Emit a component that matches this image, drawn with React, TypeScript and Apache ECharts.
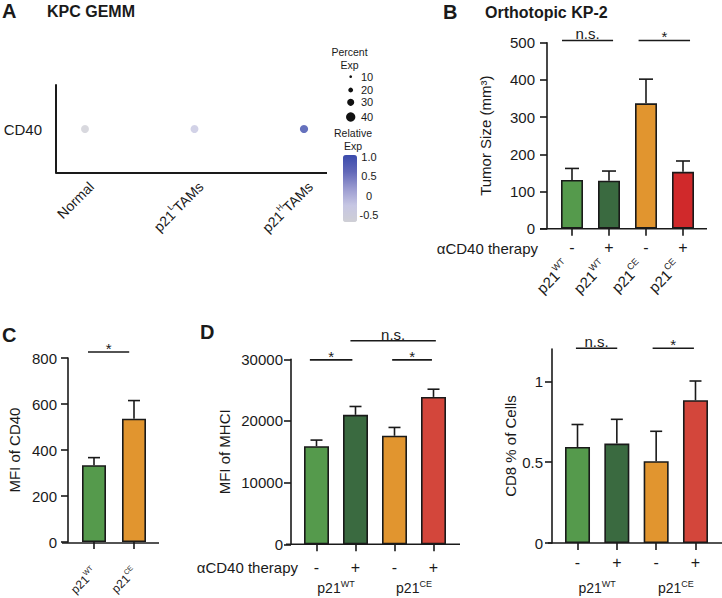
import React, { useEffect, useRef } from 'react';
import * as echarts from 'echarts';

const FONT = '"Liberation Sans", Arial, Helvetica, sans-serif';
const INK = '#1a1a1a';
const LW = 1.6;

// ===== Panel A: KPC GEMM dot plot =====
const aGroups = ['Normal', 'p21^L^TAMs', 'p21^H^TAMs'];
const aGenes = ['CD40'];
const aPercentExp = [34, 34, 35];
const aRelativeExp = [-0.65, -0.3, 1.0];
const aPercentLegend = [10, 20, 30, 40];
const aRelTicks = [1.0, 0.5, 0, -0.5];
const aRelTickLabels = ['1.0', '0.5', '0', '-0.5'];
const aRelMin = -0.68;
const aRelMax = 1.05;

// ===== Panel B: Orthotopic KP-2 tumor size =====
const bTherapy = ['-', '+', '-', '+'];
const bGenotype = ['p21^WT', 'p21^WT', 'p21^CE', 'p21^CE'];
const bMean = [131, 129, 337, 153];
const bSem = [31, 26, 65, 29];
const bSigFrom = [0, 2];
const bSigTo = [1, 3];
const bSigY = [506, 506];
const bSigText = ['n.s.', '*'];

// ===== Panel C: MFI of CD40 =====
const cGenotype = ['p21^WT', 'p21^CE'];
const cMean = [334, 536];
const cSem = [33, 79];
const cSigFrom = [0];
const cSigTo = [1];
const cSigY = [826];
const cSigText = ['*'];

// ===== Panel D: MFI of MHCI =====
const dTherapy = ['-', '+', '-', '+'];
const dGroups = ['p21^WT', 'p21^CE'];
const dMean = [15900, 21000, 17600, 23900];
const dSem = [1000, 1350, 1350, 1250];
const dSigFrom = [0, 2, 1];
const dSigTo = [1, 3, 3];
const dSigY = [29900, 29900, 33000];
const dSigText = ['*', '*', 'n.s.'];

// ===== Panel E: CD8 % of cells =====
const eTherapy = ['-', '+', '-', '+'];
const eGroups = ['p21^WT', 'p21^CE'];
const eMean = [0.594, 0.615, 0.506, 0.883];
const eSem = [0.139, 0.15, 0.185, 0.119];
const eSigFrom = [0, 2];
const eSigTo = [1, 3];
const eSigY = [1.205, 1.205];
const eSigText = ['n.s.', '*'];

// ----- styles / layout -----
const GREEN = '#559a4c';
const DKGREEN = '#3a6a40';
const ORANGE = '#e1952f';
const RED_B = '#d0292b';
const RED_D = '#d3463b';
const bColors = [GREEN, DKGREEN, ORANGE, RED_B];
const cColors = [GREEN, ORANGE];
const dColors = [GREEN, DKGREEN, ORANGE, RED_D];
const eColors = [GREEN, DKGREEN, ORANGE, RED_D];
const relColors = ['#cfcfd5', '#c6c6e3', '#9a9bd0', '#6268b8', '#3a4aab'];

// bracket end shifts (in category widths)
const bShift = [[-0.27, 0.11], [-0.2, 0.19]];
const cShift = [[-0.15, -0.12]];
const dShift = [[-0.17, -0.08], [-0.06, -0.04], [-0.13, 0.06]];
const eShift = [[-0.04, 0.01], [-0.09, -0.04]];

const gA = { left: 30.25, top: 85, width: 328.5, height: 88, axisX: 56, axisEnd: 327 };
const gB = { left: 553.5, top: 42.7, width: 148, height: 186, axisX: 547, lineFrom: 540, lineTo: 707 };
const gC = { left: 74, top: 358, width: 80, height: 185, axisX: 68, lineFrom: 62, lineTo: 159 };
const gD = { left: 297, top: 359.3, width: 156, height: 185, axisX: 291, lineFrom: 286, lineTo: 460 };
const gE = { left: 557.85, top: 349, width: 157.3, height: 194, axisX: 552, lineFrom: 548, lineTo: 722 };

const sizeOf = (p: number) => 2.7 + (p - 10) * 0.22;

const supFmt = (s: string) => {
  const p = s.split('^');
  let out = `{b|${p[0]}}`;
  if (p[1]) out += `{s|${p[1]}}`;
  if (p[2]) out += `{b|${p[2]}}`;
  return out;
};
const rich = (b: number, s: number) => ({
  b: { fontSize: b, fontFamily: FONT, color: INK, lineHeight: b + 2, verticalAlign: 'bottom' },
  s: { fontSize: s, fontFamily: FONT, color: INK, lineHeight: s + 2, verticalAlign: 'top' },
});

const gridOf = (g: any) => ({ left: g.left, top: g.top, width: g.width, height: g.height, containLabel: false });

function valueY(gridIndex: number, g: any, max: number, interval: number, name: string, nameGap: number, margin: number, custom?: number[]) {
  const ax: any = {
    type: 'value', gridIndex, min: 0, max, interval,
    offset: g.left - g.axisX,
    name, nameLocation: 'middle', nameGap, nameRotate: 90,
    nameTextStyle: { fontSize: 15, fontFamily: FONT, color: INK },
    axisLine: { show: true, onZero: false, lineStyle: { color: INK, width: LW } },
    axisTick: { show: true, length: 7, lineStyle: { color: INK, width: LW } },
    axisLabel: { fontSize: 15, fontFamily: FONT, color: INK, margin, formatter: (v: number) => String(v) },
    splitLine: { show: false },
  };
  if (custom) {
    ax.axisTick.customValues = custom;
    ax.axisLabel.customValues = custom;
  }
  return ax;
}

function catX(gridIndex: number, data: string[], opts: any) {
  const label: any = {
    interval: 0,
    margin: opts.margin,
    rotate: opts.rotate || 0,
    fontSize: opts.fontSize || 16,
    fontFamily: FONT,
    color: INK,
  };
  if (opts.sup) {
    label.formatter = supFmt;
    label.rich = rich(opts.sup[0], opts.sup[1]);
  }
  if (opts.vAlign) label.verticalAlign = opts.vAlign;
  return {
    type: 'category', gridIndex, data, position: 'bottom',
    axisLine: { show: false },
    axisTick: opts.ticks
      ? { show: true, alignWithLabel: true, length: 7, lineStyle: { color: INK, width: LW } }
      : { show: false },
    axisLabel: label,
    splitLine: { show: false },
  };
}

function barSeries(xi: number, yi: number, mean: number[], colors: string[], barWidth: number) {
  return {
    type: 'bar', xAxisIndex: xi, yAxisIndex: yi, barWidth, z: 2,
    data: mean.map((v, i) => ({ value: v, itemStyle: { color: colors[i] } })),
    itemStyle: { borderColor: INK, borderWidth: LW },
  };
}

function errSeries(xi: number, yi: number, mean: number[], sem: number[], cap: number) {
  return {
    type: 'custom', xAxisIndex: xi, yAxisIndex: yi, z: 3,
    data: mean.map((m, i) => [i, m, m + sem[i]]),
    renderItem: (_p: any, api: any) => {
      const base = api.coord([api.value(0), api.value(1)]);
      const top = api.coord([api.value(0), api.value(2)]);
      const st = { stroke: INK, lineWidth: LW };
      return {
        type: 'group',
        children: [
          { type: 'line', shape: { x1: base[0], y1: base[1], x2: top[0], y2: top[1] }, style: st },
          { type: 'line', shape: { x1: top[0] - cap / 2, y1: top[1], x2: top[0] + cap / 2, y2: top[1] }, style: st },
        ],
      };
    },
  };
}

function sigSeries(xi: number, yi: number, from: number[], to: number[], ys: number[], texts: string[], shift: number[][]) {
  return {
    type: 'custom', xAxisIndex: xi, yAxisIndex: yi, z: 4, clip: false,
    data: from.map((f, i) => [f, ys[i], to[i]]),
    renderItem: (params: any, api: any) => {
      const i = params.dataIndex;
      const band = api.size([1, 0])[0];
      const p1 = api.coord([api.value(0), api.value(1)]);
      const p2 = api.coord([api.value(2), api.value(1)]);
      const x1 = p1[0] + shift[i][0] * band;
      const x2 = p2[0] + shift[i][1] * band;
      const star = texts[i] === '*';
      return {
        type: 'group',
        children: [
          { type: 'line', shape: { x1, y1: p1[1], x2, y2: p1[1] }, style: { stroke: INK, lineWidth: LW } },
          {
            type: 'text', x: (x1 + x2) / 2, y: star ? p1[1] - 3.5 : p1[1] + 1,
            style: {
              text: texts[i], fontSize: 15, fontFamily: FONT, fill: INK,
              align: 'center', verticalAlign: star ? 'middle' : 'bottom',
            },
          },
        ],
      };
    },
  };
}

const txt = (x: number, y: number, text: string, size: number, extra: any = {}) => ({
  type: 'text', x, y, silent: true,
  style: { text, fontSize: size, fontFamily: FONT, fill: INK, verticalAlign: 'middle', align: 'left', ...extra },
});
const hline = (x1: number, x2: number, y: number, w = LW) => ({
  type: 'line', silent: true, shape: { x1, y1: y, x2, y2: y }, style: { stroke: INK, lineWidth: w },
});

export default function App() {
  const ref = useRef<HTMLDivElement>(null);
  useEffect(() => {
    if (!ref.current) return;
    const chart = echarts.init(ref.current, undefined, { renderer: 'svg' });
    const cbTop = 155, cbH = 67, cbLeft = 343, cbW = 14;
    const relY = (v: number) => cbTop + ((aRelMax - v) / (aRelMax - aRelMin)) * cbH;
    const legY = [76.7, 90, 102.3, 117];

    const graphic: any[] = [
      txt(2, 10.5, 'A', 20, { fontWeight: 'bold' }),
      txt(47, 11, 'KPC GEMM', 16, { fontWeight: 'bold' }),
      txt(443, 11.5, 'B', 20, { fontWeight: 'bold' }),
      txt(485, 12, 'Orthotopic KP-2', 16, { fontWeight: 'bold' }),
      txt(2, 334.5, 'C', 20, { fontWeight: 'bold' }),
      txt(200, 332, 'D', 20, { fontWeight: 'bold' }),
      // panel A legend
      txt(349.5, 52, 'Percent', 10.5, { align: 'center' }),
      txt(349.5, 65, 'Exp', 10.5, { align: 'center' }),
      ...aPercentLegend.map((p, i) => ({
        type: 'circle', silent: true, shape: { cx: 350.7, cy: legY[i], r: sizeOf(p) / 2 }, style: { fill: '#111' },
      })),
      ...aPercentLegend.map((p, i) => txt(361, legY[i], String(p), 11)),
      txt(353, 133, 'Relative', 10.5, { align: 'center' }),
      txt(353, 146, 'Exp', 10.5, { align: 'center' }),
      ...aRelTicks.map((v, i) => txt(369, relY(v), aRelTickLabels[i], 11, { align: 'center' })),
      // axis lines
      hline(gA.axisX, gA.axisEnd, gA.top + gA.height, 2),
      hline(gB.lineFrom, gB.lineTo, gB.top + gB.height),
      hline(gC.lineFrom, gC.lineTo, gC.top + gC.height),
      hline(gD.lineFrom, gD.lineTo, gD.top + gD.height),
      hline(gE.lineFrom, gE.lineTo, gE.top + gE.height),
      txt(538, 248, 'αCD40 therapy', 15, { align: 'right' }),
      txt(298, 567, 'αCD40 therapy', 15, { align: 'right' }),
    ];

    const option: any = {
      animation: false,
      backgroundColor: '#ffffff',
      textStyle: { fontFamily: FONT },
      grid: [gridOf(gA), gridOf(gB), gridOf(gC), gridOf(gD), gridOf(gE)],
      xAxis: [
        catX(0, aGroups, { margin: 5, rotate: 45, sup: [14, 8], vAlign: 'top' }),
        catX(1, bTherapy, { ticks: true, margin: 11, fontSize: 16 }),
        catX(1, bGenotype, { margin: 40, rotate: 45, sup: [15, 9], vAlign: 'bottom' }),
        catX(2, cGenotype, { ticks: true, margin: 27, rotate: 45, sup: [12, 7] }),
        catX(3, dTherapy, { ticks: true, margin: 15, fontSize: 16 }),
        catX(3, dGroups, { margin: 35, sup: [14, 9] }),
        catX(4, eTherapy, { ticks: true, margin: 11, fontSize: 16 }),
        catX(4, eGroups, { margin: 36, sup: [14, 9] }),
      ],
      yAxis: [
        {
          type: 'category', gridIndex: 0, data: aGenes, offset: gA.left - gA.axisX,
          axisLine: { show: true, lineStyle: { color: INK, width: 2 } },
          axisTick: { show: false },
          axisLabel: { fontSize: 15, fontFamily: FONT, color: INK, margin: 14 },
          splitLine: { show: false },
        },
        valueY(1, gB, 500, 100, 'Tumor Size (mm³)', 54, 12),
        valueY(2, gC, 800, 200, 'MFI of CD40', 46, 11),
        valueY(3, gD, 30000, 10000, 'MFI of MHCI', 59, 8),
        valueY(4, gE, 1.2, 0.5, 'CD8 % of Cells', 34, 9, [0, 0.5, 1]),
      ],
      visualMap: [{
        type: 'continuous', seriesIndex: 0, dimension: 2,
        min: aRelMin, max: aRelMax, calculable: false, hoverLink: false,
        left: cbLeft, top: cbTop, itemWidth: cbW, itemHeight: cbH, padding: 0,
        inRange: { color: relColors }, textStyle: { fontSize: 1, color: 'rgba(0,0,0,0)' },
      }],
      series: [
        {
          type: 'scatter', xAxisIndex: 0, yAxisIndex: 0, z: 3,
          data: aRelativeExp.map((r, i) => [i, 0, r, aPercentExp[i]]),
          symbolSize: (v: number[]) => sizeOf(v[3]),
        },
        barSeries(1, 1, bMean, bColors, 22),
        errSeries(1, 1, bMean, bSem, 14),
        sigSeries(1, 1, bSigFrom, bSigTo, bSigY, bSigText, bShift),
        barSeries(3, 2, cMean, cColors, 24),
        errSeries(3, 2, cMean, cSem, 12),
        sigSeries(3, 2, cSigFrom, cSigTo, cSigY, cSigText, cShift),
        barSeries(4, 3, dMean, dColors, 25),
        errSeries(4, 3, dMean, dSem, 12),
        sigSeries(4, 3, dSigFrom, dSigTo, dSigY, dSigText, dShift),
        barSeries(6, 4, eMean, eColors, 25),
        errSeries(6, 4, eMean, eSem, 12),
        sigSeries(6, 4, eSigFrom, eSigTo, eSigY, eSigText, eShift),
      ],
      graphic,
    };
    chart.setOption(option);
    return () => chart.dispose();
  }, []);
  return (
    <div
      ref={ref}
      style={{ position: 'fixed', left: 0, top: 0, width: 722, height: 598, background: '#fff' }}
    />
  );
}
